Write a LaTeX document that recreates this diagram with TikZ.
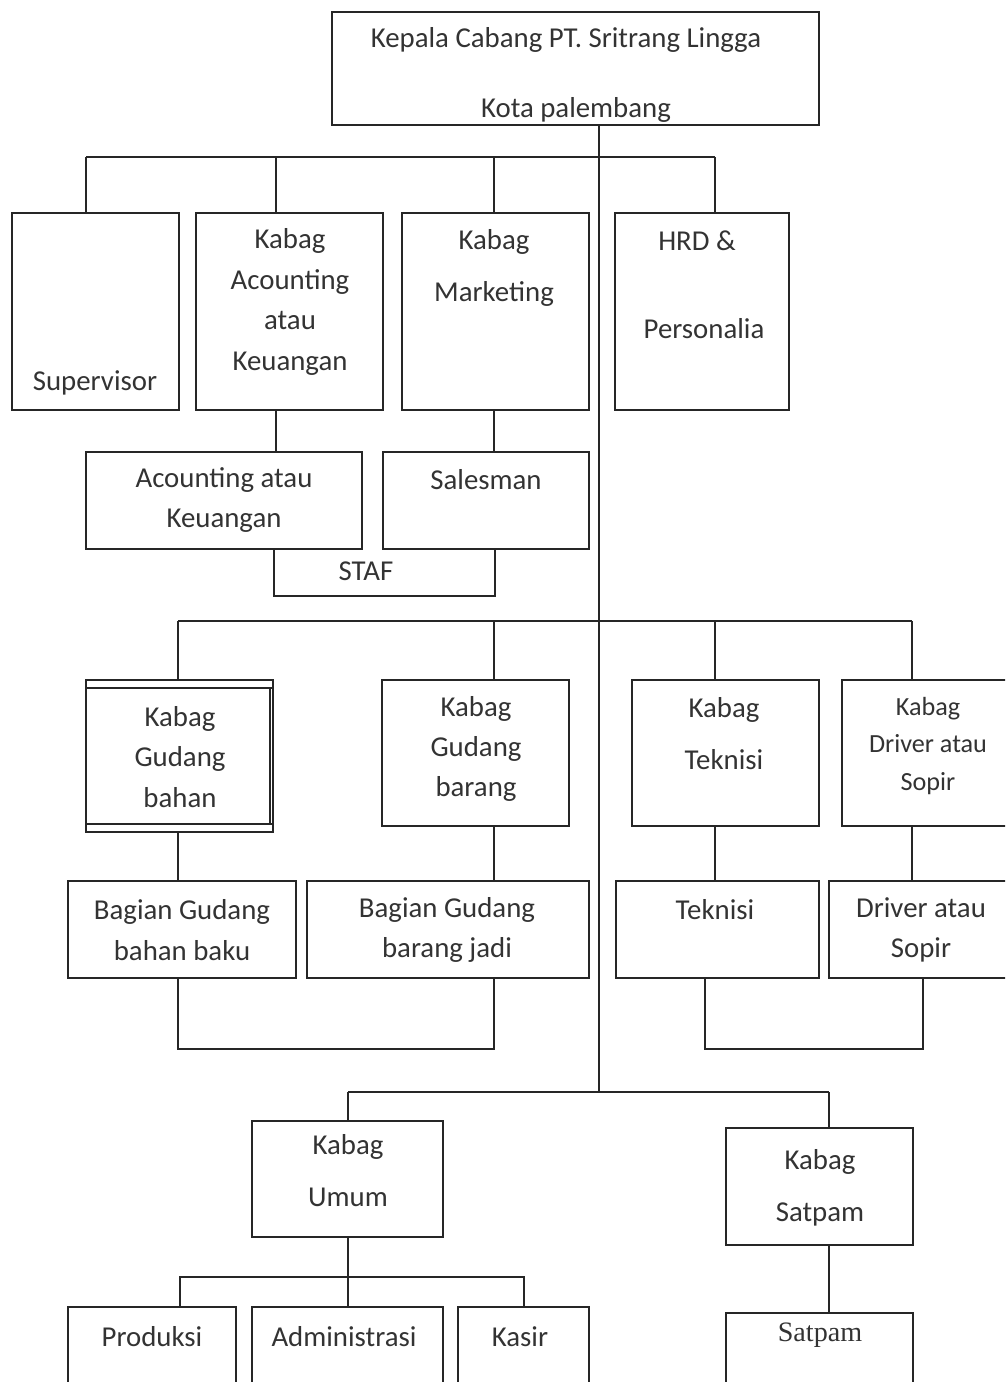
\documentclass[tikz,border=0pt]{standalone}
\usepackage{fontspec}
\setmainfont{Carlito}
\newfontfamily\serifsat{Liberation Serif}
\usetikzlibrary{fit, positioning}

\begin{document}
\begin{tikzpicture}[x=0.02cm, y=-0.02cm, line width=1.1pt,
  box/.style={draw=black!85, inner sep=0pt, fit={#1}},
  lbl/.style={text=black!80, inner sep=0pt, align=center, font=\fontsize{16.4}{23}\selectfont},
  lblw/.style={lbl, font=\fontsize{16.4}{29.6}\selectfont},
  conn/.style={draw=black!85}]

  \clip (0,0) rectangle (1005,1382);

  % pimpinan
  \node[box={(332,12) (819,125)}] (kc) {};
  \node[lbl] (kc1) at (566,40) {Kepala Cabang PT. Sritrang Lingga};
  \node[lbl] (kc2) at (576,110) {Kota palembang};
  \coordinate (tr) at (599,157);
  \coordinate (tb) at (599,1092);
  \draw[conn] (kc.south -| tr) -- (tb);

  % baris 1
  \node[box={(12,213) (179,410)}] (sup) {};
  \node[box={(196,213) (383,410)}] (acc) {};
  \node[box={(402,213) (589,410)}] (mkt) {};
  \node[box={(615,213) (789,410)}] (hrd) {};
  \node[lbl] (sup-t) at (95,383) {Supervisor};
  \node[lbl] (acc-t) at (290,302) {Kabag\\Acounting\\atau\\Keuangan};
  \node[lblw] (mkt-t) at (494,268) {Kabag\\Marketing};
  \node[lbl] (hrd-t1) at (697,241) {HRD \&};
  \node[lbl] (hrd-t2) at (704,329) {Personalia};
  \draw[conn] (86,157) -- (715,157);
  \foreach \x/\n in {86/sup, 276/acc, 494/mkt, 715/hrd}
    \draw[conn] (\x,157) -- (\x,157 |- \n.north);

  % staf
  \node[inner sep=0pt, fit={(275,549) (494,595)}] (staf) {};
  \draw[conn] (staf.north west) |- (staf.south east) -- (staf.north east);
  \node[box={(86,452) (362,549)}] (sacc) {};
  \node[box={(383,452) (589,549)}] (sal) {};
  \node[lbl] (sacc-t) at (224,500) {Acounting atau\\Keuangan};
  \node[lbl] (sal-t) at (486,480) {Salesman};
  \node[lbl] (staf-t) at (366,571) {STAF};
  \draw[conn] (276,0 |- acc.south) -- (276,0 |- sacc.north);
  \draw[conn] (494,0 |- mkt.south) -- (494,0 |- sal.north);

  % baris 3
  \draw[conn] (178,621) -- (912,621);
  \node[box={(86,680) (273,832)}] (kgb) {};
  \draw[conn] (86,688) -- (273,688) (86,824) -- (273,824) (270,688) -- (270,824);
  \node[lbl] (kgb-t) at (180,757) {Kabag\\Gudang\\bahan};
  \node[box={(382,680) (569,826)}] (kgj) {};
  \node[lbl] (kgj-t) at (476,749) {Kabag\\Gudang\\barang};
  \node[box={(632,680) (819,826)}] (ktk) {};
  \node[lblw] (ktk-t) at (724,734) {Kabag\\Teknisi};
  \node[box={(842,680) (1012,826)}] (kdr) {};
  \node[lbl, font=\fontsize{14.9}{21.6}\selectfont] (kdr-t) at (928,746) {Kabag\\Driver atau\\Sopir};
  \foreach \x/\n in {178/kgb, 494/kgj, 715/ktk, 912/kdr}
    \draw[conn] (\x,621) -- (\x,621 |- \n.north);

  % baris 4
  \node[box={(68,881) (296,978)}] (bgb) {};
  \node[box={(307,881) (589,978)}] (bgj) {};
  \node[box={(616,881) (819,978)}] (btk) {};
  \node[box={(829,881) (1012,978)}] (bdr) {};
  \node[lbl] (bgb-t) at (182,930) {Bagian Gudang\\bahan baku};
  \node[lbl] (bgj-t) at (447,930) {Bagian Gudang\\barang jadi};
  \node[lbl] (btk-t) at (715,910) {Teknisi};
  \node[lbl] (bdr-t) at (921,930) {Driver atau\\Sopir};
  \foreach \x/\a/\b in {178/kgb/bgb, 494/kgj/bgj, 715/ktk/btk, 912/kdr/bdr}
    \draw[conn] (\x,0 |- \a.south) -- (\x,0 |- \b.north);
  \draw[conn] (178,0 |- bgb.south) |- (494,1049) -- (494,0 |- bgj.south);
  \draw[conn] (705,0 |- btk.south) |- (923,1049) -- (923,0 |- bdr.south);

  % baris 5
  \draw[conn] (348,1092) -- (829,1092);
  \node[box={(252,1121) (443,1237)}] (ku) {};
  \node[lblw] (ku-t) at (348,1171) {Kabag\\Umum};
  \node[box={(726,1128) (913,1245)}] (ks) {};
  \node[lblw] (ks-t) at (820,1188) {Kabag\\Satpam};
  \draw[conn] (348,1092) -- (348,0 |- ku.north);
  \draw[conn] (829,1092) -- (829,0 |- ks.north);

  % baris 6
  \node[box={(68,1307) (236,1420)}] (prd) {};
  \node[box={(252,1307) (443,1420)}] (adm) {};
  \node[box={(458,1307) (589,1420)}] (ksr) {};
  \node[box={(726,1313) (913,1420)}] (stp) {};
  \node[lbl] (prd-t) at (152,1337) {Produksi};
  \node[lbl] (adm-t) at (344,1337) {Administrasi};
  \node[lbl] (ksr-t) at (520,1337) {Kasir};
  \node[lbl, font=\fontsize{16}{20}\serifsat] (stp-t) at (820,1335) {Satpam};
  \draw[conn] (348,0 |- ku.south) -- (348,0 |- adm.north);
  \draw[conn] (180,0 |- prd.north) |- (524,1277) -- (524,0 |- ksr.north);
  \draw[conn] (829,0 |- ks.south) -- (829,0 |- stp.north);

\end{tikzpicture}
\end{document}
